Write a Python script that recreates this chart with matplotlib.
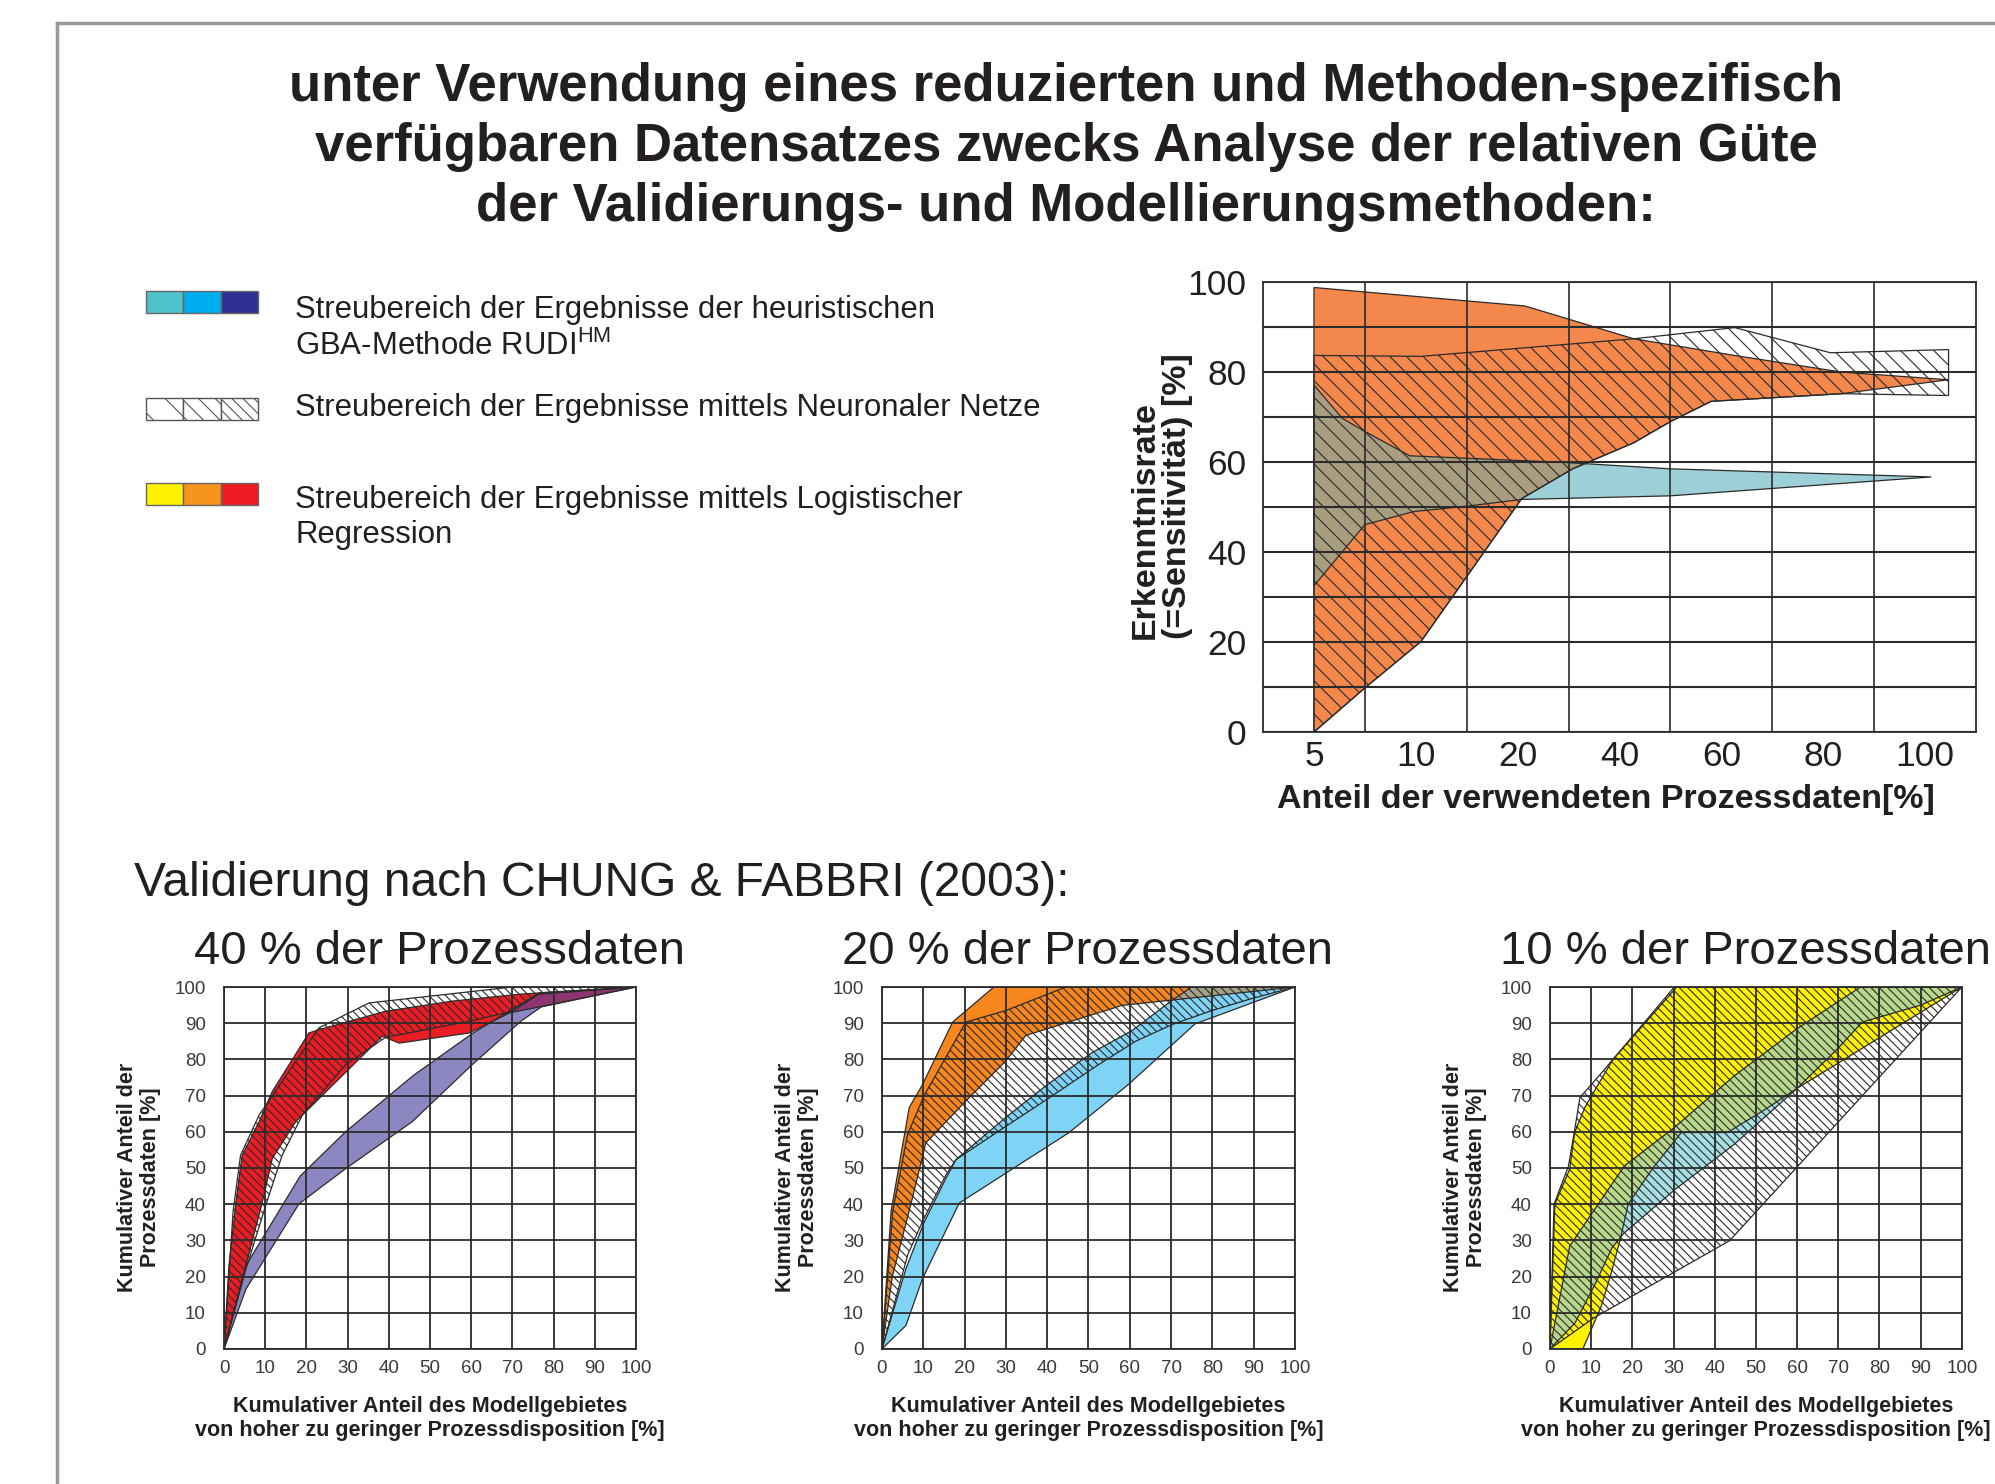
import matplotlib
matplotlib.use("Agg")
import matplotlib.pyplot as plt
from matplotlib.patches import Polygon, Rectangle
from matplotlib.ticker import MultipleLocator, FixedLocator

plt.rcParams["font.family"] = ["Liberation Sans", "DejaVu Sans"]
plt.rcParams["mathtext.fontset"] = "custom"
plt.rcParams["mathtext.rm"] = "Liberation Sans"
plt.rcParams["hatch.linewidth"] = 0.8

INK = "#231f20"
LINE = "#2b2b2b"

# ---- top chart: sensitivity vs. share of process data used ----
top_ticks = ["5", "10", "20", "40", "60", "80", "100"]
# x in category units (0 = "5" ... 6 = "100"), y in %
top_lr_x = [0, 0, 2.07, 3.14, 4.13, 5.18, 6.23, 5.18, 3.9, 3.5, 3.14, 2.54, 2.04, 1.05, 0.5]
top_lr_y = [0, 98.8, 94.7, 87.4, 83.7, 80.0, 78.3, 75.2, 73.5, 69.0, 64.3, 58.5, 51.9, 20.1, 9.8]
top_nn_x = [0, 1.05, 3.14, 4.13, 5.07, 6.23, 6.23, 5.18, 3.9, 3.5, 3.14, 2.54, 2.04, 1.05, 0.5, 0]
top_nn_y = [83.7, 83.5, 87.4, 89.9, 84.3, 85.0, 74.8, 75.2, 73.5, 69.0, 64.3, 58.5, 51.9, 20.1, 9.8, 0]
top_rudi_x = [0, 0.28, 0.5, 0.94, 2.48, 3.5, 6.06, 3.5, 2.04, 1.5, 0.98, 0.5, 0]
top_rudi_y = [77.1, 69.7, 66.8, 61.4, 59.9, 58.5, 56.7, 52.5, 51.7, 50.2, 49.0, 46.1, 32.5]

# ---- success-rate curves (Chung & Fabbri), 40 % of process data ----
c1_lr_x = [0, 1.2, 2.8, 4.4, 8.5, 11.7, 20.6, 23, 39.2, 55.4, 71.5, 100, 77.4, 69.4, 59.5, 42.5, 38.4, 17.4, 11.7, 9.3, 5.3]
c1_lr_y = [0, 23, 39.6, 53.5, 62.8, 71.1, 87.3, 88.2, 93.3, 96.1, 98.0, 100, 94.7, 92.9, 87.3, 84.5, 86.4, 62.8, 52.6, 40.6, 23]
c1_nn_x = [0, 2.2, 4, 8.5, 23, 35.2, 70, 100, 76.4, 70, 59.4, 39.2, 29.5, 19, 14.1, 10.1, 5.3]
c1_nn_y = [0, 38, 53.5, 64.6, 88.7, 95.6, 100, 100, 98, 93.3, 90.5, 86.1, 78.5, 64.6, 53.5, 39.6, 22]
c1_rudi_x = [0, 5.3, 18.5, 29.5, 46, 60.2, 76.5, 100, 77, 72, 60.2, 45.7, 29.5, 18.2, 5.3]
c1_rudi_y = [0, 23, 47.8, 60, 75.6, 87.1, 98.4, 100, 94.5, 90.5, 78.5, 62.8, 49.8, 40.1, 16.5]

# ---- 20 % of process data ----
c2_lr_x = [0, 2.2, 6.6, 9.8, 17.1, 27.1, 100, 69.4, 58.1, 34.8, 30, 20.3, 10.6, 7, 2.5]
c2_lr_y = [0, 38, 66.7, 73, 90.3, 100, 100, 96.3, 94.9, 86.6, 79.6, 68.5, 56.9, 40, 20]
c2_nn_x = [0, 2.6, 6.2, 10.2, 20.3, 30, 44.5, 100, 89.5, 79.9, 70.2, 61.4, 51.7, 40, 30, 17.9, 15.5, 9.8, 6.2]
c2_nn_y = [0, 38, 59.3, 70, 90.3, 93.5, 100, 100, 96.8, 93.5, 89.6, 85, 78, 69, 61.5, 52.3, 48.1, 35.2, 25.9]
c2_rudi_x = [0, 5.8, 10.2, 15.5, 17.9, 30, 40, 50.9, 60.6, 70.2, 75, 100, 75.8, 59.7, 45.2, 18.7, 9.8, 5.8]
c2_rudi_y = [0, 22.2, 35, 47.2, 52.3, 64, 73, 81.9, 88, 96.3, 100, 100, 89.8, 73.1, 59.7, 40.3, 19.4, 6.5]

# ---- 10 % of process data ----
c3_lr_x = [0, 1.2, 4.8, 6, 8.5, 15.3, 30.8, 100, 90, 80, 70, 60, 52, 43.1, 31.9, 25, 19, 17, 14.7, 12.5, 8]
c3_lr_y = [0, 40, 49.7, 59.8, 66.8, 80, 100, 100, 93, 86, 79, 72, 66, 59.8, 59.8, 50, 40, 30, 20.2, 11.9, 0]
c3_nn_x = [0, 1.0, 4.5, 6, 7.3, 13.3, 30.2, 100, 43.6, 10.7]
c3_nn_y = [0, 40, 50.5, 60.5, 69.5, 77.3, 100, 100, 29.9, 8.6]
c3_rudi_x = [0, 4.8, 10.5, 18.1, 30, 44.8, 60, 75.4, 100, 90, 75.8, 69.8, 60, 44.5, 30.3, 18, 15.1, 11, 6.1]
c3_rudi_y = [0, 28.4, 38, 50.6, 61, 75.5, 88.5, 100, 100, 95, 90.3, 82.9, 72, 56.3, 44, 32, 28, 18, 7.2]


def region(ax, xs, ys, face, z=1.0):
    p = Polygon(list(zip(xs, ys)), closed=True, facecolor=face, edgecolor="none", zorder=z)
    ax.add_patch(p)
    return p


def outline(ax, xs, ys, hatch=None, z=2.0):
    ax.add_patch(Polygon(list(zip(xs, ys)), closed=True, facecolor="none",
                         edgecolor=LINE, linewidth=0.9, hatch=hatch, zorder=z))


def overlap(ax, xs, ys, face, clip):
    p = region(ax, xs, ys, face, z=1.5)
    p.set_clip_path(clip)


def draw_bands(ax, lr, rudi, nn, c_lr, c_rudi, c_mix, hatch):
    lr_patch = region(ax, *lr, c_lr)
    region(ax, *rudi, c_rudi)
    overlap(ax, *rudi, c_mix, lr_patch)
    outline(ax, *lr)
    outline(ax, *rudi)
    outline(ax, *nn, hatch=hatch, z=2.2)


fig = plt.figure(figsize=(19.95, 14.84), dpi=100)

# page overlay in pixel coordinates for frame, headings and legend
page = fig.add_axes([0, 0, 1, 1])
page.set_xlim(0, 1995)
page.set_ylim(1484, 0)
page.axis("off")
page.plot([57, 57], [23, 1484], color="#9a9a9a", lw=2.5)
page.plot([57, 1995], [23, 23], color="#9a9a9a", lw=2.5)

title_lines = ["unter Verwendung eines reduzierten und Methoden-spezifisch",
               "verfügbaren Datensatzes zwecks Analyse der relativen Güte",
               "der Validierungs- und Modellierungsmethoden:"]
for i, line in enumerate(title_lines):
    page.text(1066, 101 + 60 * i, line, ha="center", va="baseline",
              fontsize=38, fontweight="bold", color=INK)

legend_fill = [["#4fc3cc", "#00aeef", "#2e3192"], None, ["#fff200", "#f7941d", "#ed1c24"]]
legend_rows_y = [291, 398, 483]
legend_text = [["Streubereich der Ergebnisse der heuristischen", r"GBA-Methode RUDI$^{\mathrm{HM}}$"],
               ["Streubereich der Ergebnisse mittels Neuronaler Netze"],
               ["Streubereich der Ergebnisse mittels Logistischer", "Regression"]]
legend_base = [[318, 355], [416], [508, 543]]
for r, y0 in enumerate(legend_rows_y):
    for k in range(3):
        if legend_fill[r] is None:
            page.add_patch(Rectangle((146 + 37.3 * k, y0), 37.3, 22, facecolor="white",
                                     edgecolor="#555555", lw=1.0, hatch="\\" * (k + 1)))
        else:
            page.add_patch(Rectangle((146 + 37.3 * k, y0), 37.3, 22,
                                     facecolor=legend_fill[r][k], edgecolor="#666666", lw=1.0))
    for line, yb in zip(legend_text[r], legend_base[r]):
        page.text(295, yb, line, ha="left", va="baseline", fontsize=22.4, color=INK)

page.text(134, 896, "Validierung nach CHUNG & FABBRI (2003):", ha="left", va="baseline",
          fontsize=34.5, color=INK)
for xc, pct in zip([439, 1088, 1746], ["40", "20", "10"]):
    page.text(xc, 952, f"{pct} % der Prozessdaten", ha="center", va="center",
              fontsize=34, color=INK)

# ---- top chart ----
ax = fig.add_axes([0.6331, 0.5067, 0.3574, 0.3032])
draw_bands(ax, (top_lr_x, top_lr_y), (top_rudi_x, top_rudi_y), (top_nn_x, top_nn_y),
           "#f4874b", "#9dcfd6", "#a99d80", "\\\\")
ax.set_xlim(-0.5, 6.5)
ax.set_ylim(0, 100)
ax.xaxis.set_major_locator(FixedLocator(range(len(top_ticks))))
ax.set_xticklabels(top_ticks)
ax.xaxis.set_minor_locator(FixedLocator([i + 0.5 for i in range(len(top_ticks) - 1)]))
ax.yaxis.set_major_locator(MultipleLocator(20))
ax.yaxis.set_minor_locator(MultipleLocator(10))
ax.set_axisbelow(False)
ax.grid(which="minor", axis="x", color=LINE, lw=1.2)
ax.grid(which="both", axis="y", color=LINE, lw=1.5)
ax.tick_params(which="both", length=0, labelsize=25.5, colors=INK)
ax.tick_params(axis="x", pad=6)
ax.tick_params(axis="y", pad=12)
for s in ax.spines.values():
    s.set_color(LINE)
    s.set_linewidth(1.3)
ax.text(0.481, -0.15, "Anteil der verwendeten Prozessdaten[%]", transform=ax.transAxes,
        ha="center", va="center", fontsize=24.5, fontweight="bold", color=INK)
ax.text(-0.143, 0.524, "Erkenntnisrate\n(=Sensitivität) [%]", transform=ax.transAxes,
        rotation=90, ha="center", va="center", multialignment="left",
        fontsize=24.5, fontweight="bold", color=INK, linespacing=1.05)

# ---- bottom charts ----
bottom = [
    ([0.1123, 0.0910, 0.2065, 0.2439], (c1_lr_x, c1_lr_y), (c1_rudi_x, c1_rudi_y), (c1_nn_x, c1_nn_y),
     "#ec1c24", "#8c86c1", "#8e3570"),
    ([0.4421, 0.0910, 0.2070, 0.2439], (c2_lr_x, c2_lr_y), (c2_rudi_x, c2_rudi_y), (c2_nn_x, c2_nn_y),
     "#f7861f", "#7fd4f5", "#a5a287"),
    ([0.7769, 0.0910, 0.2065, 0.2439], (c3_lr_x, c3_lr_y), (c3_rudi_x, c3_rudi_y), (c3_nn_x, c3_nn_y),
     "#fff200", "#a6dee4", "#b7d78b"),
]
for rect, lr, rudi, nn, c_lr, c_rudi, c_mix in bottom:
    ax = fig.add_axes(rect)
    draw_bands(ax, lr, rudi, nn, c_lr, c_rudi, c_mix, "\\\\\\\\")
    ax.set_xlim(0, 100)
    ax.set_ylim(0, 100)
    ax.xaxis.set_major_locator(MultipleLocator(10))
    ax.yaxis.set_major_locator(MultipleLocator(10))
    ax.set_axisbelow(False)
    ax.grid(True, color=LINE, lw=1.3)
    ax.tick_params(length=0, labelsize=13.5, colors="#3a3a3a")
    ax.tick_params(axis="x", pad=8)
    ax.tick_params(axis="y", pad=13)
    for s in ax.spines.values():
        s.set_color(LINE)
        s.set_linewidth(1.3)
    ax.text(0.5, -0.193, "Kumulativer Anteil des Modellgebietes\nvon hoher zu geringer Prozessdisposition [%]",
            transform=ax.transAxes, ha="center", va="center", fontsize=15.5, fontweight="bold",
            color=INK, linespacing=1.2)
    ax.text(-0.206, 0.475, "Kumulativer Anteil der\nProzessdaten [%]", transform=ax.transAxes,
            rotation=90, ha="center", va="center", fontsize=15.5, fontweight="bold",
            color=INK, linespacing=1.1)

fig.savefig("out.png", dpi=100)
